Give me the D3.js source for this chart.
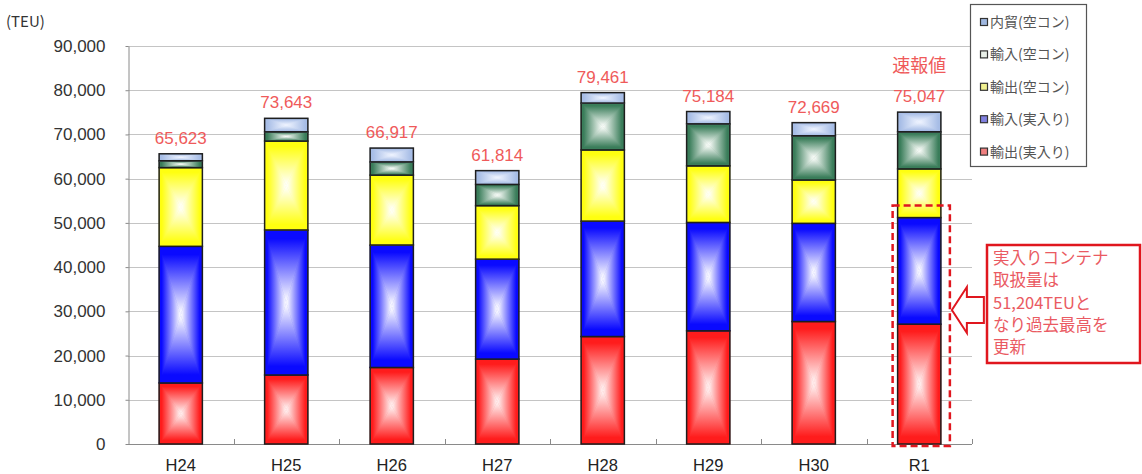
<!DOCTYPE html>
<html lang="ja">
<head>
<meta charset="utf-8">
<script src="https://cdn.jsdelivr.net/npm/d3@7"></script>
<style>
  html, body { margin: 0; padding: 0; background: #fff; }
  svg { display: block; }
  text { font-family: "Liberation Sans", Arial, "Noto Sans CJK JP", sans-serif; }
  .jp { font-family: "Noto Sans CJK JP", "Noto Sans", sans-serif; }
</style>
</head>
<body>
<svg id="chart" width="1142" height="474"></svg>
<script>
// 年度別コンテナ取扱量（TEU）
const categories = ["H24", "H25", "H26", "H27", "H28", "H29", "H30", "R1"];
const exportLaden   = [13800, 15600, 17300, 19200, 24300, 25600, 27700, 27100]; // 輸出(実入り)
const importLaden   = [30900, 32800, 27700, 22600, 26100, 24500, 22200, 24104]; // 輸入(実入り)
const exportEmpty   = [17800, 20100, 15800, 12100, 16100, 12800,  9800, 11000]; // 輸出(空コン)
const importEmpty   = [ 1550,  2100,  3000,  4800, 10600,  9500, 10000,  8400]; // 輸入(空コン)
const domesticEmpty = [ 1573,  3043,  3117,  3114,  2361,  2784,  2969,  4443]; // 内貿(空コン)
const totals        = [65623, 73643, 66917, 61814, 79461, 75184, 72669, 75047];
const yTicks = [0, 10000, 20000, 30000, 40000, 50000, 60000, 70000, 80000, 90000];

const seriesDefs = [
  { key: "exportLaden",   label: "輸出(実入り)", values: exportLaden,   edge: "#ff1c1c", center: "#ffecec", swatch: "#f08080" },
  { key: "importLaden",   label: "輸入(実入り)", values: importLaden,   edge: "#0a0aff", center: "#f6f6ff", swatch: "#8080e0" },
  { key: "exportEmpty",   label: "輸出(空コン)", values: exportEmpty,   edge: "#ffff10", center: "#fffff6", swatch: "#f0f090" },
  { key: "importEmpty",   label: "輸入(空コン)", values: importEmpty,   edge: "#3a7d5a", center: "#f6faf6", swatch: "#e8efe8" },
  { key: "domesticEmpty", label: "内貿(空コン)", values: domesticEmpty, edge: "#a7bde6", center: "#eef3ff", swatch: "#a0b8e0" }
];

const svg = d3.select("#chart");
const plot = { left: 128, right: 972 };

const x = d3.scaleBand().domain(categories).range([plot.left, plot.right])
  .paddingInner(0.59).paddingOuter(0.295);
const y = d3.scaleLinear().domain([0, 90000]).range([444, 46]);

// Gradients: each bar segment is filled by four triangles fading from the edges to a white centre
const defs = svg.append("defs");
seriesDefs.forEach(s => {
  const dirs = {
    top:    { x1: 0, y1: 0, x2: 0, y2: 1 },
    bottom: { x1: 0, y1: 1, x2: 0, y2: 0 },
    left:   { x1: 0, y1: 0, x2: 1, y2: 0 },
    right:  { x1: 1, y1: 0, x2: 0, y2: 0 }
  };
  Object.entries(dirs).forEach(([d, v]) => {
    const g = defs.append("linearGradient").attr("id", `g-${s.key}-${d}`)
      .attr("x1", v.x1).attr("y1", v.y1).attr("x2", v.x2).attr("y2", v.y2);
    g.append("stop").attr("offset", 0).attr("stop-color", s.edge);
    g.append("stop").attr("offset", 0.12).attr("stop-color", s.edge);
    g.append("stop").attr("offset", 0.95).attr("stop-color", s.center);
    g.append("stop").attr("offset", 1).attr("stop-color", s.center);
  });
});

// Gridlines
svg.append("g").selectAll("line").data(yTicks.filter(t => t > 0)).join("line")
  .attr("x1", plot.left).attr("x2", plot.right)
  .attr("y1", d => Math.round(y(d)) + 0.5).attr("y2", d => Math.round(y(d)) + 0.5)
  .attr("stroke", "#c4c4c4").attr("stroke-width", 1);

// Y axis
const yAxis = svg.append("g").attr("transform", `translate(${plot.left + 0.5},0)`)
  .call(d3.axisLeft(y).tickValues(yTicks).tickSize(3).tickSizeOuter(0)
    .tickFormat(d3.format(",")));
yAxis.select(".domain").attr("stroke", "#8a8a8a");
yAxis.selectAll(".tick line").attr("stroke", "#8a8a8a");
yAxis.selectAll(".tick text").attr("x", -23).attr("fill", "#333")
  .style("font-size", "17px").style("font-family", "'Liberation Sans', Arial, sans-serif");

// X axis (ticks sit between categories and point inward)
const boundaries = d3.range(categories.length + 1).map(i => plot.left + i * x.step());
svg.append("line").attr("x1", plot.left).attr("x2", plot.right)
  .attr("y1", 444.5).attr("y2", 444.5).attr("stroke", "#8a8a8a");
svg.append("g").selectAll("line").data(boundaries.slice(1)).join("line")
  .attr("x1", d => Math.round(d) + 0.5).attr("x2", d => Math.round(d) + 0.5)
  .attr("y1", 444).attr("y2", 439).attr("stroke", "#8a8a8a");
svg.append("g").selectAll("text").data(categories).join("text")
  .attr("x", d => x(d) + x.bandwidth() / 2).attr("y", 471)
  .attr("text-anchor", "middle").attr("fill", "#222")
  .style("font-size", "16.5px").text(d => d);

// Stacked segments
const rows = categories.map((c, i) => {
  const r = { cat: c };
  seriesDefs.forEach(s => { r[s.key] = s.values[i]; });
  return r;
});
const stack = d3.stack().keys(seriesDefs.map(s => s.key))(rows);

const barG = svg.append("g");
stack.forEach((layer, li) => {
  const s = seriesDefs[li];
  layer.forEach(seg => {
    const x0 = x(seg.data.cat), x1 = x0 + x.bandwidth();
    const yTop = y(seg[1]), yBot = y(seg[0]);
    const cx = (x0 + x1) / 2, cy = (yTop + yBot) / 2;
    const g = barG.append("g");
    g.append("rect").attr("x", x0).attr("y", yTop)
      .attr("width", x1 - x0).attr("height", yBot - yTop).attr("fill", s.edge);
    const tris = {
      top:    [[x0, yTop], [x1, yTop], [cx, cy]],
      bottom: [[x0, yBot], [x1, yBot], [cx, cy]],
      left:   [[x0, yTop], [x0, yBot], [cx, cy]],
      right:  [[x1, yTop], [x1, yBot], [cx, cy]]
    };
    Object.entries(tris).forEach(([d, pts]) => {
      g.append("polygon").attr("points", pts.map(p => p.join(",")).join(" "))
        .attr("fill", `url(#g-${s.key}-${d})`)
        .attr("stroke", `url(#g-${s.key}-${d})`).attr("stroke-width", 0.6);
    });
    g.append("rect").attr("x", x0).attr("y", yTop)
      .attr("width", x1 - x0).attr("height", yBot - yTop)
      .attr("fill", "none").attr("stroke", "#1e1e1e").attr("stroke-width", 1.5);
  });
});

// Total labels
svg.append("g").selectAll("text").data(categories).join("text")
  .attr("x", d => x(d) + x.bandwidth() / 2)
  .attr("y", (d, i) => y(totals[i]) - 10)
  .attr("text-anchor", "middle").attr("fill", "#ef5a5a")
  .style("font-size", "17px").text((d, i) => d3.format(",")(totals[i]));

const last = categories.length - 1;
const rX = x(categories[last]);
svg.append("text").attr("class", "jp")
  .attr("x", rX + x.bandwidth() / 2).attr("y", y(totals[last]) - 40)
  .attr("text-anchor", "middle").attr("fill", "#ef5a5a")
  .style("font-size", "18px").text("速報値");

// Highlight of laden containers in the latest year
const ladenLatest = exportLaden[last] + importLaden[last];
svg.append("rect")
  .attr("x", rX - 5).attr("y", y(ladenLatest) - 12)
  .attr("width", x.bandwidth() + 14).attr("height", 446 - (y(ladenLatest) - 12))
  .attr("fill", "none").attr("stroke", "#e0161e").attr("stroke-width", 2.5)
  .attr("stroke-dasharray", "7,4");

// Hollow arrow pointing at the highlighted bar
const ax = rX + x.bandwidth() + 11;
const arrowPts = [[ax, 310], [ax + 15, 287], [ax + 15, 297], [ax + 32, 297],
                  [ax + 32, 323], [ax + 15, 323], [ax + 15, 333]];
svg.append("polygon").attr("points", arrowPts.map(p => p.join(",")).join(" "))
  .attr("fill", "#fff").attr("stroke", "#e0161e").attr("stroke-width", 2);

// Callout box
svg.append("rect").attr("x", 987).attr("y", 245).attr("width", 153).attr("height", 118)
  .attr("fill", "#fff").attr("stroke", "#e0161e").attr("stroke-width", 2.5);
const calloutLines = ["実入りコンテナ", "取扱量は", `${d3.format(",")(ladenLatest)}TEUと`, "なり過去最高を", "更新"];
svg.append("g").selectAll("text").data(calloutLines).join("text").attr("class", "jp")
  .attr("x", 993).attr("y", (d, i) => 264 + i * 22.3)
  .attr("fill", "#ea5a62").style("font-size", "16.5px").text(d => d);

// Unit label
svg.append("text").attr("class", "jp").attr("x", 6).attr("y", 27)
  .attr("fill", "#333").style("font-size", "15px").text("(TEU)");

// Legend
const legend = svg.append("g");
legend.append("rect").attr("x", 970.5).attr("y", 4.5).attr("width", 116).attr("height", 162)
  .attr("fill", "#fff").attr("stroke", "#555").attr("stroke-width", 1.2);
const legendItems = seriesDefs.slice().reverse();
legendItems.forEach((s, i) => {
  const cy = 22 + i * 32.4;
  legend.append("rect").attr("x", 980.5).attr("y", cy - 3.5).attr("width", 7).attr("height", 7)
    .attr("fill", s.swatch).attr("stroke", "#333").attr("stroke-width", 1.2);
  legend.append("text").attr("class", "jp").attr("x", 990).attr("y", cy + 5)
    .attr("fill", "#555").style("font-size", "14px").text(s.label);
});
</script>
</body>
</html>
